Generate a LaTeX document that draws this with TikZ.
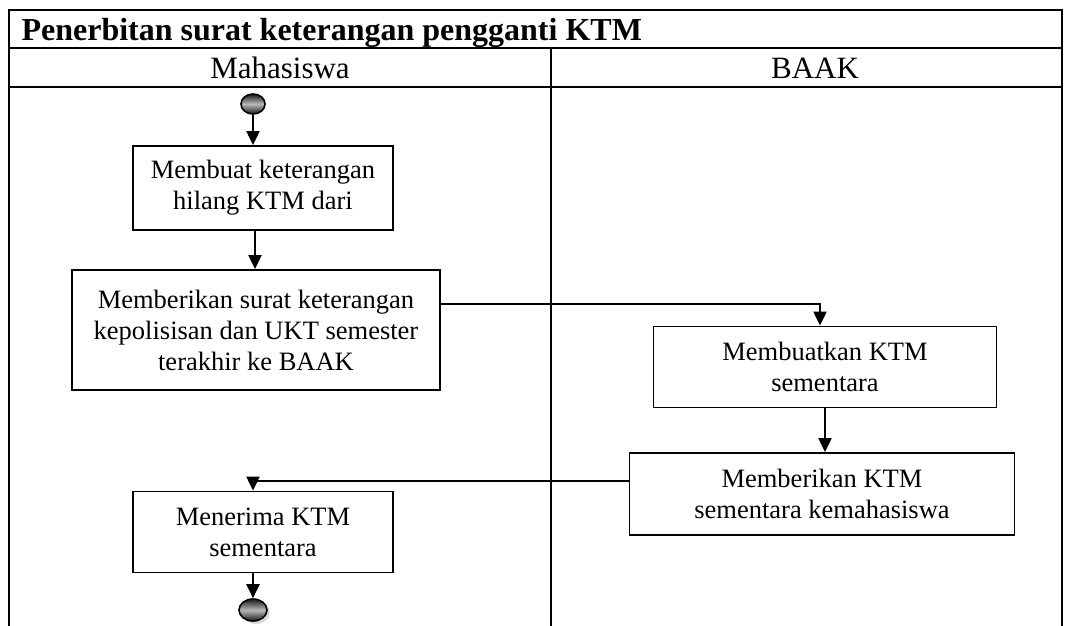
\documentclass[tikz,border=0pt]{standalone}
\usepackage{fontspec}
\setmainfont{Liberation Serif}
\usetikzlibrary{arrows.meta,positioning,calc,shapes.geometric,shadows}

\begin{document}
\begin{tikzpicture}[x=1pt, y=-1pt, >={Triangle[width=13pt,length=14pt]},
    lane/.style={line width=2pt},
    actbox/.style={draw, line width=1.8pt, align=center, font=\fontsize{26.5}{31}\selectfont},
    flow/.style={->, line width=2pt},
    bullet/.style={ellipse, draw, line width=1.6pt, inner sep=0pt,
      top color=black!90, bottom color=black!90, middle color=gray!55}]
  \useasboundingbox (0,0) rectangle (1072,626);
  % swimlane frame
  \draw[lane] (9,626) -- (9,10) -- (1062,10) -- (1062,626);
  \draw[lane] (9,48) -- (1062,48);
  \draw[lane] (9,87) -- (1062,87);
  \draw[lane] (551,48) -- (551,626);
  \node[anchor=base west, font=\fontsize{32}{36}\selectfont\bfseries] (title) at (18,41)
    {Penerbitan surat keterangan pengganti KTM};
  \node[anchor=base, font=\fontsize{31}{36}\selectfont] (mhs) at (280,78) {Mahasiswa};
  \node[anchor=base, font=\fontsize{31}{36}\selectfont] (baak) at (815,78) {BAAK};

  % activities
  \node[bullet, minimum width=24pt, minimum height=20pt] (start) at (253,104) {};
  \node[actbox, minimum width=260pt, minimum height=84pt] (buat) at (263,188)
    {Membuat keterangan\\hilang KTM dari};
  \node[actbox, minimum width=368pt, minimum height=120pt] (beri) at (256,330)
    {Memberikan surat keterangan\\kepolisisan dan UKT semester\\terakhir ke BAAK};
  \node[actbox, minimum width=343pt, minimum height=81pt] (ktm) at (825,367)
    {Membuatkan KTM\\sementara};
  \node[actbox, minimum width=385pt, minimum height=82pt] (kirim) at (822,494)
    {Memberikan KTM\\sementara kemahasiswa};
  \node[actbox, minimum width=260pt, minimum height=81pt] (terima) at (263,532)
    {Menerima KTM\\sementara};
  \node[bullet, minimum width=28pt, minimum height=22pt,
    drop shadow={shadow xshift=3pt, shadow yshift=-3pt, fill=gray!60}] (finish) at (253,610) {};

  \draw[flow] (start) -- (start |- buat.north);
  \draw[flow] ([xshift=-8pt]buat.south) -- ([xshift=-8pt]buat.south |- beri.north);
  \draw[flow] ([yshift=26pt]beri.east) -| ([xshift=-5pt]ktm.north);
  \draw[flow] (ktm) -- (ktm |- kirim.north);
  \draw[flow] ([yshift=13pt]kirim.west) -| ([xshift=-10pt]terima.north);
  \draw[flow] (terima.south -| finish) -- (finish);
\end{tikzpicture}
\end{document}
